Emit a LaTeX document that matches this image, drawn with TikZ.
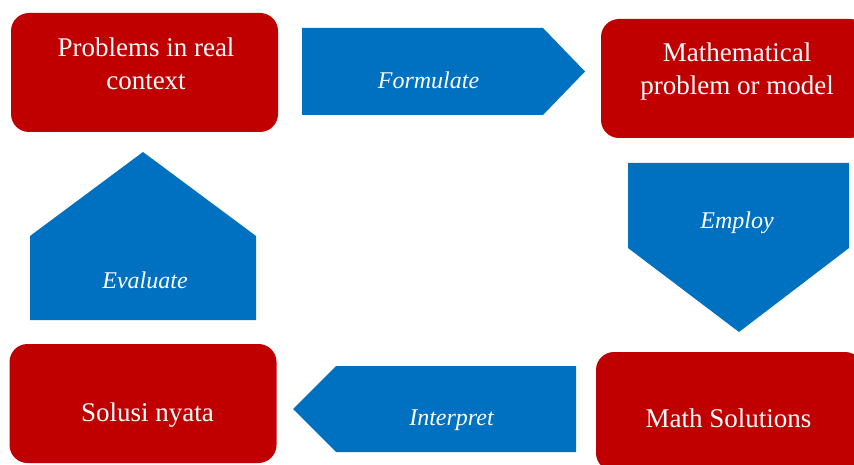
\documentclass[tikz,border=0pt]{standalone}
\usepackage{fontspec}
\setmainfont{Liberation Serif}

\definecolor{boxred}{RGB}{192,0,0}
\definecolor{stepblue}{RGB}{0,112,192}

\tikzset{
	box/.style = {fill = boxred, rounded corners = 18pt, minimum width = 267pt, minimum height = 119pt, inner sep = 0pt},
	boxtext/.style = {text = white, align = center, inner sep = 0pt, font = \fontsize{27}{33}\selectfont},
	steptext/.style = {text = white, inner sep = 0pt, font = \fontsize{24}{28}\selectfont\itshape},
}

\begin{document}
\begin{tikzpicture}[x = 1pt, y = -1pt]

\useasboundingbox (0, 0) rectangle (854, 465);
\clip (0, 0) rectangle (854, 465);

% the four situations
\node[box] (real) at (144.5, 72.5) {};
\node[box] (model) at (734.5, 78.5) {};
\node[box] (sol) at (729.5, 411.5) {};
\node[box] (nyata) at (143, 403.5) {};

\node[boxtext] (realtxt) at (146, 64) {Problems in real\\context};
\node[boxtext] (modeltxt) at (737, 72) {Mathematical\\problem or model};
\node[boxtext] (soltxt) at (728.5, 418) {Math Solutions};
\node[boxtext] (nyatatxt) at (147.5, 415) {Solusi nyata};

% the four steps
\fill[stepblue] (302, 28) -- (543, 28) -- (585, 71.5) -- (543, 115) -- (302, 115) -- cycle;
\fill[stepblue] (628, 163) -- (849, 163) -- (849, 248) -- (739, 332) -- (628, 248) -- cycle;
\fill[stepblue] (576, 366) -- (576, 452) -- (336, 452) -- (293, 409) -- (336, 366) -- cycle;
\fill[stepblue] (30, 320) -- (30, 236) -- (143, 152) -- (256, 236) -- (256, 320) -- cycle;

\node[steptext] (formulate) at (428.5, 80) {Formulate};
\node[steptext] (employ) at (737, 223) {Employ};
\node[steptext] (interpret) at (451.5, 420) {Interpret};
\node[steptext] (evaluate) at (145, 280.5) {Evaluate};

\end{tikzpicture}
\end{document}
